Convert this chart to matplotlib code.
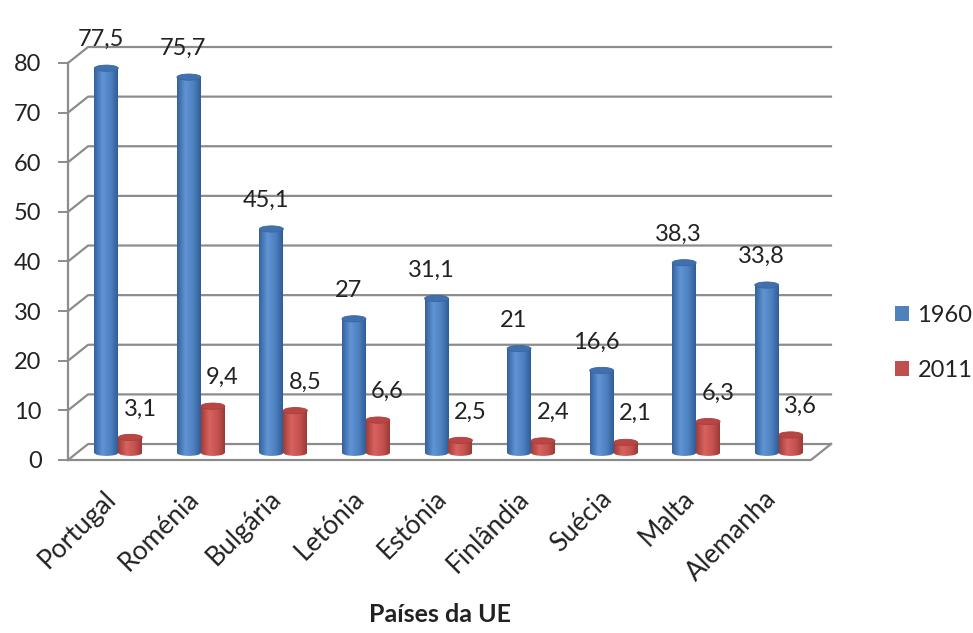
import numpy as np
import matplotlib
matplotlib.use("Agg")
import matplotlib.pyplot as plt
from matplotlib.patches import Ellipse, Patch
from matplotlib.colors import LinearSegmentedColormap

paises = ["Portugal", "Roménia", "Bulgária", "Letónia", "Estónia",
          "Finlândia", "Suécia", "Malta", "Alemanha"]
anos = ["1960", "2011"]
valores_1960 = [77.5, 75.7, 45.1, 27, 31.1, 21, 16.6, 38.3, 33.8]
valores_2011 = [3.1, 9.4, 8.5, 6.6, 2.5, 2.4, 2.1, 6.3, 3.6]
y_ticks = [0, 10, 20, 30, 40, 50, 60, 70, 80]

plt.rcParams['font.family'] = ['Lato', 'DejaVu Sans']

# geometria da "caixa" 3D em unidades de dados
DX, DY = 0.243, 3.22   # deslocamento da parede do fundo
PROF = 0.45            # profundidade onde assentam os cilindros
LARG = 0.29            # largura de cada cilindro
ELIP = 1.25            # altura das elipses (em unidades do eixo y)
GRID = '#8c8c8c'
TXT = '#222222'
FS = 17

azul = LinearSegmentedColormap.from_list(
    "azul", [(0, '#33609b'), (0.35, '#6094d4'), (0.7, '#4d80bf'), (1, '#305c95')])
verm = LinearSegmentedColormap.from_list(
    "verm", [(0, '#a03c39'), (0.35, '#d8625e'), (0.7, '#c4524f'), (1, '#9a3936')])
grad = np.linspace(0, 1, 256).reshape(1, -1)

fig = plt.figure(figsize=(9.73, 6.33), dpi=100)
ax = fig.add_axes([68 / 973, 1 - 460 / 633, 763 / 973, 413 / 633])
n = len(paises)
for s in ax.spines.values():
    s.set_visible(False)

# paredes e grelha
for v in y_ticks:
    ax.plot([0, DX, n + DX], [v, v + DY, v + DY], color=GRID, lw=1.6,
            zorder=1, clip_on=False)
ax.plot([0, 0], [0, y_ticks[-1]], color=GRID, lw=1.6, zorder=1, clip_on=False)
ax.plot([0, n, n + DX], [0, 0, DY], color=GRID, lw=1.6, zorder=1, clip_on=False)


def cilindro(xc, valor, cmap, cor_topo, cor_borda):
    base = PROF * DY
    x0 = xc - LARG / 2
    barra = ax.bar(xc, valor, width=LARG, bottom=base, color='none',
                   zorder=3)[0]
    fundo = Ellipse((xc, base), LARG, ELIP, color='none', zorder=3)
    ax.add_patch(fundo)
    for clip in (barra, fundo):
        im = ax.imshow(grad, cmap=cmap, aspect='auto', zorder=3,
                       interpolation='bilinear',
                       extent=[x0, x0 + LARG, base - ELIP, base + valor])
        im.set_clip_path(clip)
    ax.add_patch(Ellipse((xc, base + valor), LARG, ELIP, facecolor=cor_topo,
                         edgecolor=cor_borda, lw=0.6, zorder=4))
    return base + valor


def rotulo(x, y, valor, dx):
    ax.annotate(f"{valor:g}".replace('.', ','), (x, y), xytext=(dx, 13),
                textcoords='offset points', ha='center', va='bottom',
                fontsize=FS, color=TXT, annotation_clip=False, zorder=5)


for i in range(n):
    xc = i + 0.5 + PROF * DX
    topo = cilindro(xc - LARG / 2, valores_1960[i], azul, '#4070ae', '#3a66a0')
    rotulo(xc - LARG / 2, topo, valores_1960[i], -4)
    topo = cilindro(xc + LARG / 2, valores_2011[i], verm, '#b94643', '#a83f3c')
    rotulo(xc + LARG / 2, topo, valores_2011[i], 7)

# nomes dos países
for i, nome in enumerate(paises):
    ax.text(i + 0.43, -5.2, nome, rotation=45, ha='right', va='top',
            rotation_mode='anchor', fontsize=19, color=TXT)

ax.set_xticks([])
ax.set_yticks(y_ticks)
ax.set_yticklabels([str(v) for v in y_ticks])
ax.tick_params(axis='y', length=7, width=1.4, color=GRID, pad=12,
               labelsize=FS, labelcolor=TXT)
ax.set_xlim(0, n + DX)
ax.set_ylim(0, y_ticks[-1] + DY)

fig.text(440 / 973, 1 - 615 / 633, "Países da UE", ha='center', va='center',
         fontsize=18, fontweight='bold', color=TXT)

handles = [Patch(facecolor='#4f81bd', label=anos[0]),
           Patch(facecolor='#c0504d', label=anos[1])]
fig.legend(handles=handles, loc='upper left',
           bbox_to_anchor=(895 / 973, 1 - 305 / 633), frameon=False,
           fontsize=FS, handlelength=0.6, handleheight=0.6,
           handletextpad=0.35, labelspacing=1.45, borderpad=0,
           borderaxespad=0, labelcolor=TXT)

fig.savefig("out.png", dpi=100)
